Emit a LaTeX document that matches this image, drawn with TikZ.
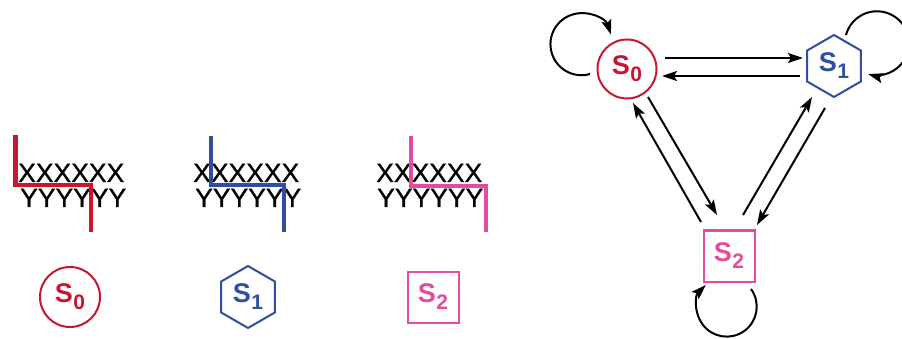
\documentclass[tikz,border=0pt]{standalone}
\usepackage{fontspec}
\setmainfont{Liberation Sans}
\newfontfamily\seqfont[FakeBold=0.8]{Liberation Sans}
\usetikzlibrary{shapes.geometric,arrows.meta,calc}
\definecolor{cred}{RGB}{200,22,50}
\definecolor{cblue}{RGB}{47,78,162}
\definecolor{cpink}{RGB}{226,75,158}
\newcommand{\slabel}[1]{\fontsize{27}{27}\selectfont\textbf{S}\kern0.5pt\raisebox{-7pt}{\fontsize{21}{21}\selectfont\bfseries #1}}
\begin{document}
\begin{tikzpicture}[x=1pt,y=-1pt,
  state/.style={line width=2pt,inner sep=0pt,outer sep=0pt},
  circst/.style={state,circle,draw=cred,text=cred,minimum size=59pt},
  hexst/.style={state,regular polygon,regular polygon sides=6,shape border rotate=30,draw=cblue,text=cblue,minimum size=62pt},
  sqst/.style={state,rectangle,draw=cpink,text=cpink,minimum size=51pt},
  arr/.style={line width=2pt,-{Stealth[length=15pt,width=10pt,inset=3pt]}},
  trace/.style={line width=4.5pt},
  seq/.style={font=\seqfont\fontsize{26.5}{26.5}\selectfont,inner sep=0pt,anchor=base west}]
\useasboundingbox (0,0) rectangle (902,339);

% sequences
\node[seq] (rx) at (18,182) {XXXXXX};
\node[seq] (ry) at (20,207) {YYYYYY};
\node[seq] (bx) at (193,182) {XXXXXX};
\node[seq] (by) at (195,207) {YYYYYY};
\node[seq] (px) at (376,182) {XXXXXX};
\node[seq] (py) at (377,207) {YYYYYY};

\draw[trace,cred] (15.5,135) -- (15.5,185) -- (91,185) -- (91,232);
\draw[trace,cblue] (211,136) -- (211,185) -- (284,185) -- (284,232);
\draw[trace,cpink] (411,136) -- (411,186) -- (486,186) -- (486,232);

% legend
\node[circst,minimum size=60pt] (P) at (70,297) {\slabel{0}};
\node[hexst] (Q) at (248,297) {\slabel{1}};
\node[sqst] (R) at (433,297) {\slabel{2}};

% graph
\node[circst] (A) at (627,69) {\slabel{0}};
\node[hexst] (B) at (834,66) {\slabel{1}};
\node[sqst] (C) at (729,256) {\slabel{2}};

\draw[arr] ($(A.center)+(38,-11)$) -- ($(B.center)+(-31,-8)$);
\draw[arr] ($(B.center)+(-34,10)$) -- ($(A.center)+(35,7)$);
\draw[arr] ($(C.center)+(-28,-34)$) -- ($(A.center)+(6,34)$);
\draw[arr] ($(A.center)+(21,28)$) -- ($(C.center)+(-12,-41)$);
\draw[arr] ($(C.center)+(14,-41)$) -- ($(B.center)+(-22,31)$);
\draw[arr] ($(B.center)+(-9,42)$) -- ($(C.center)+(28,-31)$);

\draw[arr] ($(A.center)+(-37,5)$) arc[start angle=74,end angle=342,radius=31];
\draw[arr] ($(B.center)+(12,-31)$) arc[start angle=195,end angle=466,radius=32];
\draw[arr] ($(C.center)+(22,33)$) arc[start angle=324,end angle=586,radius=30];
\end{tikzpicture}
\end{document}
